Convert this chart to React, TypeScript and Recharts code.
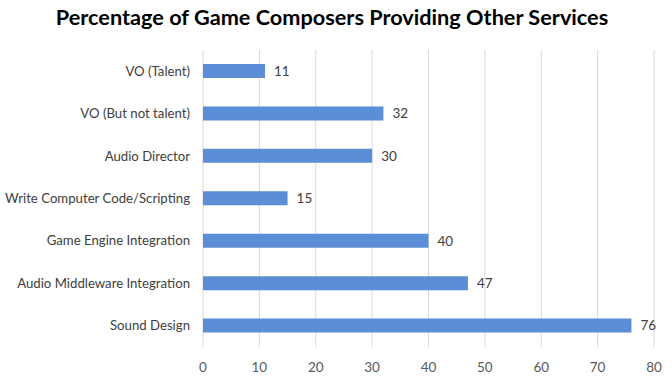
import { BarChart, Bar, XAxis, YAxis, CartesianGrid, LabelList } from 'recharts'

const categories = [
  'VO (Talent)',
  'VO (But not talent)',
  'Audio Director',
  'Write Computer Code/Scripting',
  'Game Engine Integration',
  'Audio Middleware Integration',
  'Sound Design',
]
const percentages = [11, 32, 30, 15, 40, 47, 76]
const xTicks = [0, 10, 20, 30, 40, 50, 60, 70, 80]

const data = categories.map((name, i) => ({ name, value: percentages[i] }))

const font = 'Lato, "Open Sans", sans-serif'

// single-line category label, right aligned next to the plot
const CategoryTick = (props: any) => {
  const { x, y, payload } = props
  return (
    <text x={x - 2} y={y} dy={4.5} textAnchor="end" fill="#404040" fontSize={13.2} fontFamily={font}>
      {payload.value}
    </text>
  )
}

export default function App() {
  return (
    <div style={{ position: 'absolute', left: 0, top: 0, width: 672, height: 378, background: '#fff', fontFamily: font }}>
      <div
        style={{
          position: 'absolute',
          top: 4,
          left: 0,
          width: 664,
          textAlign: 'center',
          fontSize: 21.7,
          fontWeight: 700,
          color: '#000',
        }}
      >
        Percentage of Game Composers Providing Other Services
      </div>
      <BarChart
        width={672}
        height={378}
        data={data}
        layout="vertical"
        margin={{ top: 50, right: 18, bottom: 6, left: 0 }}
      >
        <CartesianGrid horizontal={false} stroke="#d9d9d9" />
        <XAxis
          type="number"
          domain={[0, 80]}
          ticks={xTicks}
          axisLine={false}
          tickLine={false}
          height={25}
          tickMargin={9}
          tick={{ fill: '#595959', fontSize: 13.5, fontFamily: font }}
        />
        <YAxis
          type="category"
          dataKey="name"
          width={203}
          axisLine={false}
          tickLine={false}
          tickMargin={5}
          tick={<CategoryTick />}
        />
        <Bar dataKey="value" fill="#5b8ed6" barSize={14} isAnimationActive={false}>
          <LabelList dataKey="value" position="right" offset={9} fill="#404040" fontSize={13.5} fontFamily={font} />
        </Bar>
      </BarChart>
    </div>
  )
}
